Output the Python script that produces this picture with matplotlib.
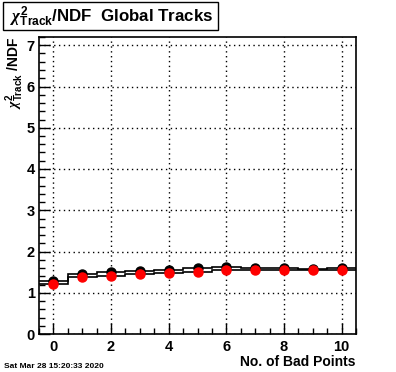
import numpy as np
import matplotlib
matplotlib.use("Agg")
import matplotlib.pyplot as plt
from matplotlib.patches import Rectangle

plt.rcParams['font.family'] = ['Liberation Sans', 'DejaVu Sans']
plt.rcParams['font.weight'] = 'bold'
plt.rcParams['mathtext.fontset'] = 'custom'
plt.rcParams['mathtext.rm'] = 'Liberation Sans:bold'
plt.rcParams['mathtext.bf'] = 'Liberation Sans:bold'
plt.rcParams['mathtext.it'] = 'Liberation Serif:italic'

# data
bad_points = np.arange(0, 11)
chi2_black = [1.29, 1.45, 1.50, 1.53, 1.56, 1.59, 1.62, 1.61, 1.61, 1.58, 1.61]
chi2_red = [1.21, 1.37, 1.41, 1.45, 1.48, 1.50, 1.54, 1.55, 1.55, 1.55, 1.54]

fig = plt.figure(figsize=(3.96, 3.72), dpi=100)
ax = fig.add_axes([39/396, 1 - 334/372, (356 - 39)/396, (334 - 37)/372])

edges = np.arange(-0.5, 11.0, 1.0)
ax.stairs(chi2_black, edges, baseline=None, color='black', lw=1.2)
ax.stairs(chi2_red, edges, baseline=None, color='black', lw=1.2)
ax.plot(bad_points, chi2_black, 'o', color='black', ms=6.5, zorder=3)
ax.plot(bad_points, chi2_red, 'o', color='red', ms=6.5, zorder=4)

ax.set_xlim(-0.5, 10.5)
ax.set_ylim(0, 7.2)
ax.set_xticks(np.arange(0, 11, 2))
ax.set_xticks(np.arange(-0.5, 10.6, 0.5), minor=True)
ax.set_yticks(np.arange(0, 8, 1))
ax.set_yticks(np.arange(0, 7.21, 0.2), minor=True)
ax.tick_params(which='both', direction='in', labelsize=10.5)
ax.tick_params(which='major', length=8, width=1)
ax.tick_params(which='minor', length=4, width=1)
ax.tick_params(axis='x', pad=4)
ax.tick_params(axis='y', pad=3)
for lab in ax.get_xticklabels() + ax.get_yticklabels():
    lab.set_fontweight('bold')
ax.grid(True, which='major', color='black', linestyle=(0, (1, 2.5)), lw=1)
for s in ax.spines.values():
    s.set_linewidth(1.2)

ax.set_xlabel('No. of Bad Points', fontsize=10, fontweight='bold', loc='right', labelpad=1)
fig.text(15/396, 1 - 37/372, r'$\chi^{2}_{\mathbf{Track}}$ /NDF', fontsize=10, fontweight='bold',
         rotation=90, ha='center', va='top')

# title box
fig.patches.append(Rectangle((3/396, 1 - 30/372), 215/396, 28/372, transform=fig.transFigure,
                             fill=False, edgecolor='black', lw=1))
fig.text(10/396, 1 - 17/372, r'$\chi^{2}_{\mathbf{Track}}$/NDF  Global Tracks', fontsize=12.2,
         fontweight='bold', va='center', ha='left')

fig.text(4/396, 1 - 366/372, 'Sat Mar 28 15:20:33 2020', fontsize=6, fontweight='bold', va='center')

fig.savefig('out.png', dpi=100)
